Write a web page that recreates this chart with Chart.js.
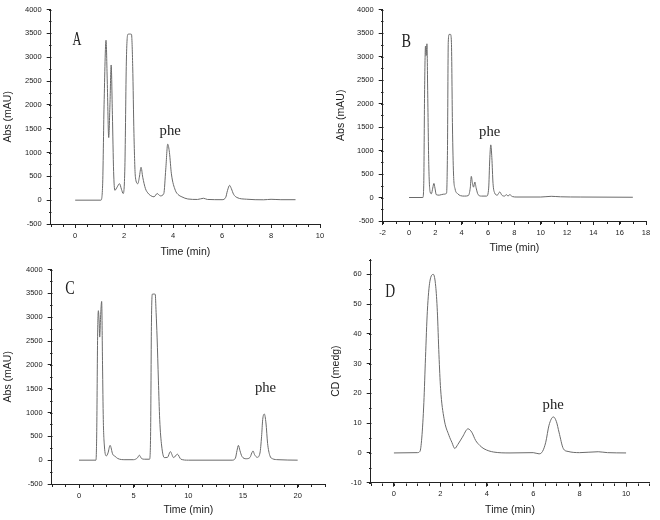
<!DOCTYPE html>
<html>
<head>
<meta charset="utf-8">
<script src="https://cdn.jsdelivr.net/npm/chart.js@4.4.1/dist/chart.umd.min.js"></script>
<style>
  body { margin: 0; background: #fff; width: 660px; height: 520px; position: relative; overflow: hidden; }
  canvas { position: absolute; }
</style>
</head>
<body>
<canvas id="cA" width="330" height="260" style="left:0;top:0"></canvas>
<canvas id="cB" width="330" height="260" style="left:330px;top:0"></canvas>
<canvas id="cC" width="330" height="260" style="left:0;top:260px"></canvas>
<canvas id="cD" width="340" height="270" style="left:320px;top:250px"></canvas>
<script>
// --- panel A : Abs (mAU) vs time, 0-9 min
const timeA = [0, 1.05, 1.12, 1.18, 1.26, 1.31, 1.37, 1.42, 1.47, 1.52, 1.57, 1.62, 1.72, 1.81, 1.89, 1.96, 2.03, 2.09, 2.15, 2.22, 2.30, 2.35, 2.40, 2.46, 2.56, 2.62, 2.69, 2.76, 2.87, 2.97, 3.07, 3.22, 3.35, 3.48, 3.62, 3.70, 3.78, 3.85, 3.93, 4.09, 4.20, 4.36, 4.6, 5.0, 5.24, 5.4, 6.0, 6.15, 6.22, 6.31, 6.38, 6.47, 6.61, 7.0, 7.7, 8.0, 8.4, 9.0];
const absA  = [0, 0, 300, 2000, 3355, 2500, 1313, 2000, 2836, 1800, 600, 207, 280, 346, 230, 139, 700, 2900, 3479, 3485, 3479, 2800, 1400, 483, 346, 480, 690, 480, 242, 150, 100, 70, 139, 90, 139, 650, 1176, 1000, 553, 207, 120, 69, 25, 15, 40, 15, 10, 60, 200, 311, 240, 124, 55, 20, 8, 18, 10, 10];

// --- panel B : Abs (mAU) vs time, 0-17 min
const timeB = [0, 1.05, 1.12, 1.18, 1.25, 1.30, 1.36, 1.42, 1.50, 1.60, 1.70, 1.80, 1.89, 1.97, 2.07, 2.30, 2.60, 2.85, 2.92, 2.98, 3.05, 3.15, 3.22, 3.30, 3.38, 3.50, 3.70, 3.90, 4.2, 4.5, 4.65, 4.73, 4.82, 4.90, 5.0, 5.10, 5.25, 5.5, 5.9, 6.05, 6.13, 6.21, 6.29, 6.38, 6.5, 6.7, 6.89, 7.05, 7.25, 7.40, 7.52, 7.65, 7.85, 8.2, 10.0, 10.8, 11.5, 13, 17];
const absB  = [0, 0, 300, 2200, 3220, 3020, 3270, 2200, 700, 120, 80, 200, 300, 200, 60, 50, 70, 90, 1000, 3300, 3470, 3470, 3300, 1500, 500, 180, 80, 40, 30, 40, 200, 450, 300, 220, 330, 200, 60, 30, 30, 200, 800, 1120, 850, 300, 100, 50, 118, 50, 30, 60, 30, 60, 20, 10, 10, 25, 15, 10, 5];

// --- panel C : Abs (mAU) vs time, 0-20 min
const timeC = [0, 1.55, 1.62, 1.70, 1.77, 1.84, 1.89, 1.97, 2.07, 2.15, 2.22, 2.32, 2.50, 2.65, 2.84, 3.08, 3.3, 3.54, 4.2, 5.0, 5.35, 5.52, 5.7, 6.0, 6.45, 6.55, 6.62, 6.70, 6.85, 6.97, 7.05, 7.14, 7.26, 7.38, 7.56, 7.80, 8.1, 8.35, 8.65, 9.0, 9.32, 10, 14.0, 14.3, 14.45, 14.58, 14.72, 14.9, 15.3, 15.65, 15.8, 15.92, 16.05, 16.3, 16.55, 16.7, 16.8, 16.95, 17.1, 17.25, 17.45, 17.7, 18.2, 20];
const absC  = [0, 0, 600, 2600, 3136, 2900, 2582, 3000, 3330, 2000, 851, 297, 90, 150, 311, 125, 80, 35, 10, 10, 50, 104, 40, 20, 20, 600, 2800, 3481, 3485, 3481, 3100, 2582, 1680, 850, 297, 54, 60, 180, 54, 125, 20, 0, 0, 40, 200, 310, 200, 80, 30, 60, 150, 193, 120, 60, 150, 500, 850, 968, 780, 350, 100, 30, 10, 0];

// --- panel D : CD (medg) vs time, 0-10 min
const timeD = [0, 1.0, 1.12, 1.2, 1.29, 1.36, 1.44, 1.55, 1.70, 1.80, 1.87, 1.94, 2.01, 2.16, 2.37, 2.5, 2.62, 2.75, 2.95, 3.19, 3.35, 3.52, 3.7, 3.88, 4.3, 5, 6.0, 6.25, 6.4, 6.54, 6.68, 6.87, 7.0, 7.11, 7.30, 7.5, 8.0, 8.8, 9.2, 10];
const cdD   = [0, 0.1, 0.5, 5, 17, 32, 47.6, 57.7, 60, 56, 47.6, 33, 21.6, 11.5, 5.9, 3.5, 1.5, 2.8, 5.3, 8.1, 7, 4.2, 2.5, 1.4, 0.3, 0, 0.1, -0.3, 0.5, 3.6, 9.3, 12.1, 10.5, 7.0, 1.4, 0.5, 0.1, 0.4, 0.1, 0];

// --- axis ticks
const absTicks = [-500, 0, 500, 1000, 1500, 2000, 2500, 3000, 3500, 4000];
const cdTicks = [-10, 0, 10, 20, 30, 40, 50, 60];
const timeTicksA = [0, 2, 4, 6, 8, 10];
const timeTicksB = [-2, 0, 2, 4, 6, 8, 10, 12, 14, 16, 18];
const timeTicksC = [0, 5, 10, 15, 20];
const timeTicksD = [0, 2, 4, 6, 8, 10];

const INK = '#222';
const tickFont = { family: 'Liberation Sans, Arial, sans-serif', size: 7.5 };

// short ticks between the labelled ones
const minorTicks = {
  id: 'minorTicks',
  afterDraw(chart, args, opts) {
    const { ctx, scales: { x, y } } = chart;
    ctx.save();
    ctx.strokeStyle = INK;
    ctx.lineWidth = 1;
    ctx.beginPath();
    const xb = Math.round(y.getPixelForValue(y.min)) + 0.5;
    for (let v = x.min; v <= x.max + 1e-9; v += opts.xStep) {
      const px = Math.round(x.getPixelForValue(v)) + 0.5;
      ctx.moveTo(px, xb); ctx.lineTo(px, xb + 2.5);
    }
    const yl = Math.round(x.getPixelForValue(x.min)) + 0.5;
    for (let v = y.min; v <= y.max + 1e-9; v += opts.yStep) {
      const py = Math.round(y.getPixelForValue(v)) + 0.5;
      ctx.moveTo(yl, py); ctx.lineTo(yl - 2.5, py);
    }
    ctx.stroke();
    ctx.restore();
  }
};

// panel letter and peak label
const panelText = {
  id: 'panelText',
  afterDatasetsDraw(chart, args, opts) {
    const { ctx, scales: { x, y } } = chart;
    for (const t of opts.items) {
      ctx.save();
      ctx.font = t.font;
      ctx.fillStyle = INK;
      ctx.textAlign = 'center';
      ctx.textBaseline = 'middle';
      ctx.translate(x.getPixelForValue(t.x), y.getPixelForValue(t.y));
      ctx.scale(t.sx || 1, 1);
      ctx.fillText(t.text, 0, 0);
      ctx.restore();
    }
  }
};

function panel(id, p) {
  const points = p.xs.map((t, i) => ({ x: t, y: p.ys[i] }));
  return new Chart(document.getElementById(id), {
    type: 'line',
    data: { datasets: [{ data: points, borderColor: '#6a6a6a', borderWidth: 1, pointRadius: 0, fill: false, cubicInterpolationMode: 'monotone' }] },
    options: {
      responsive: false,
      animation: false,
      events: [],
      layout: { padding: p.pad },
      plugins: {
        legend: { display: false },
        tooltip: { enabled: false },
        minorTicks: { xStep: p.xMinor, yStep: p.yMinor },
        panelText: { items: p.text }
      },
      scales: {
        x: {
          type: 'linear', min: p.xMin, max: p.xMax,
          afterBuildTicks: s => { s.ticks = p.xTicks.map(v => ({ value: v })); },
          afterFit: s => { s.height = p.xH; },
          ticks: { font: tickFont, color: INK, padding: 3, maxRotation: 0, autoSkip: false, callback: v => String(v) },
          grid: { drawOnChartArea: false, tickLength: 4, color: INK },
          border: { color: INK, width: 1 },
          title: { display: true, text: 'Time (min)', color: INK, font: { family: 'Liberation Sans, Arial, sans-serif', size: 10.5 }, padding: { top: 0, bottom: p.xTitlePad } }
        },
        y: {
          type: 'linear', min: p.yMin, max: p.yMax,
          afterBuildTicks: s => { s.ticks = p.yTicks.map(v => ({ value: v })); },
          afterFit: s => { s.width = p.yW; },
          ticks: { font: tickFont, color: INK, padding: 5, autoSkip: false, callback: v => String(v) },
          grid: { drawOnChartArea: false, tickLength: 4, color: INK },
          border: { color: INK, width: 1 },
          title: { display: true, text: p.yTitle, color: INK, font: { family: 'Liberation Sans, Arial, sans-serif', size: 10.5 }, padding: { top: p.yTitlePad, bottom: 0 } }
        }
      }
    },
    plugins: [minorTicks, panelText]
  });
}

const letterFont = '19px "Liberation Serif", "Times New Roman", serif';
const pheFont = '14px "Liberation Serif", "Times New Roman", serif';

panel('cA', {
  xs: timeA, ys: absA, xMin: -1, xMax: 10, xTicks: timeTicksA, xMinor: 0.5,
  yMin: -500, yMax: 4000, yTicks: absTicks, yMinor: 250, yTitle: 'Abs (mAU)',
  pad: { left: 0, top: 6.7, right: 10, bottom: 0 }, yW: 50.7, xH: 36, xTitlePad: 2.0, yTitlePad: 1.5,
  text: [{ text: 'A', x: 0.07, y: 3350, font: letterFont, sx: 0.65 }, { text: 'phe', x: 3.88, y: 1452, font: pheFont, sx: 1.05 }]
});

panel('cB', {
  xs: timeB, ys: absB, xMin: -2, xMax: 18, xTicks: timeTicksB, xMinor: 1,
  yMin: -500, yMax: 4000, yTicks: absTicks, yMinor: 250, yTitle: 'Abs (mAU)',
  pad: { left: 0, top: 6.7, right: 14, bottom: 0 }, yW: 52.7, xH: 39, xTitlePad: 5.4, yTitlePad: 4.4,
  text: [{ text: 'B', x: -0.22, y: 3305, font: letterFont, sx: 0.75 }, { text: 'phe', x: 6.13, y: 1393, font: pheFont, sx: 1.05 }]
});

panel('cC', {
  xs: timeC, ys: absC, xMin: -2.5, xMax: 22.5, xTicks: timeTicksC, xMinor: 1.25,
  yMin: -500, yMax: 4000, yTicks: absTicks, yMinor: 250, yTitle: 'Abs (mAU)',
  pad: { left: 0, top: 6.7, right: 5, bottom: 0 }, yW: 51.7, xH: 36, xTitlePad: 3.7, yTitlePad: 1.5,
  text: [{ text: 'C', x: -0.82, y: 3585, font: letterFont, sx: 0.75 }, { text: 'phe', x: 17.06, y: 1512, font: pheFont, sx: 1.05 }]
});

panel('cD', {
  xs: timeD, ys: cdD, xMin: -1, xMax: 11, xTicks: timeTicksD, xMinor: 0.5,
  yMin: -10, yMax: 65, yTicks: cdTicks, yMinor: 5, yTitle: 'CD (medg)',
  pad: { left: 0, top: 9.5, right: 10.7, bottom: 0 }, yW: 50.7, xH: 37.3, xTitlePad: 3.7, yTitlePad: 9.4,
  text: [{ text: 'D', x: -0.16, y: 54.1, font: letterFont, sx: 0.72 }, { text: 'phe', x: 6.86, y: 16.1, font: pheFont, sx: 1.05 }]
});
</script>
</body>
</html>
